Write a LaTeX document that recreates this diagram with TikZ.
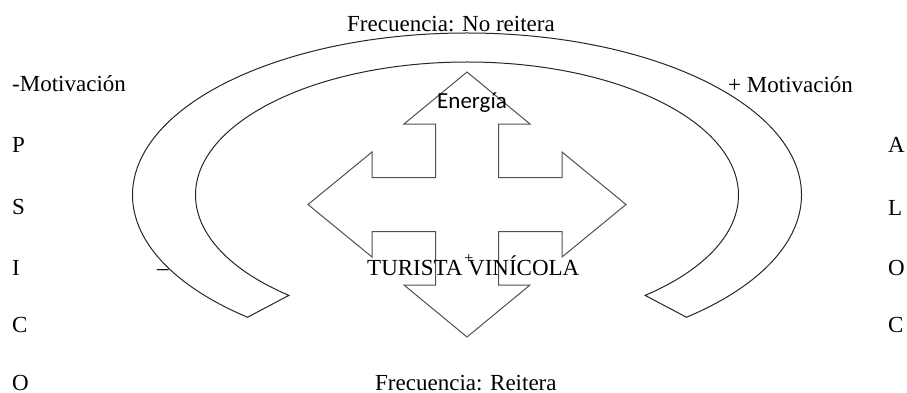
\documentclass[tikz,border=0pt]{standalone}
\usepackage{fontspec}
\setmainfont{Liberation Serif}
\newfontfamily\calibri{Carlito}
\usetikzlibrary{calc}
\definecolor{arcc}{HTML}{262626}
\definecolor{crossc}{HTML}{505050}
\tikzset{lbl/.style={anchor=base west,inner sep=0pt,font=\fontsize{23}{27}\selectfont}}

\begin{document}
\begin{tikzpicture}[x=1pt,y=1pt]
\useasboundingbox (0,0) rectangle (907,392);
\coordinate (c) at (467,197);
% block arc
\draw[arcc,line width=1pt] ($(c)+(-49:334.5pt and 162pt)$) arc[start angle=-49,end angle=229,x radius=334.5pt,y radius=162pt]
  -- ($(c)+(229:271.5pt and 133pt)$) arc[start angle=229,end angle=-49,x radius=271.5pt,y radius=133pt] -- cycle;
% quad arrow
\draw[crossc,line width=1pt,shift={(467,187.5)}] (0,132.5)--(63,80.5)--(31.5,80.5)--(31.5,27)--(95,27)--(95,52.5)--(159,0)--(95,-52.5)--(95,-27)--(31.5,-27)--(31.5,-80.5)--(63,-80.5)--(0,-132.5)--(-63,-80.5)--(-31.5,-80.5)--(-31.5,-27)--(-95,-27)--(-95,-52.5)--(-159,0)--(-95,52.5)--(-95,27)--(-31.5,27)--(-31.5,80.5)--(-63,80.5)--cycle;
\node[lbl] (fnr) at (347,360) {Frecuencia: No reitera};
\node[lbl] (fr) at (375,2) {Frecuencia: Reitera};
\node[lbl] (mneg) at (12,301) {-Motivación};
\node[lbl] (mpos) at (728,300) {+ Motivación};
\foreach \ch/\y [count=\i] in {P/240,S/178,I/117,C/60,O/2} \node[lbl] (psi\i) at (12,\y) {\ch};
\foreach \ch/\y [count=\i] in {A/240,L/177,O/117,C/60} \node[lbl] (alo\i) at (888,\y) {\ch};
\node[lbl] (dash) at (157,117) {–};
\node[lbl,font=\calibri\fontsize{23}{27}\selectfont] (en) at (437,284) {Energía};
\node[lbl] (tv) at (367,117) {TURISTA VINÍCOLA};
\node[inner sep=0pt,font=\fontsize{16}{18}\selectfont] (pl) at (469,133) {+};
\end{tikzpicture}
\end{document}
